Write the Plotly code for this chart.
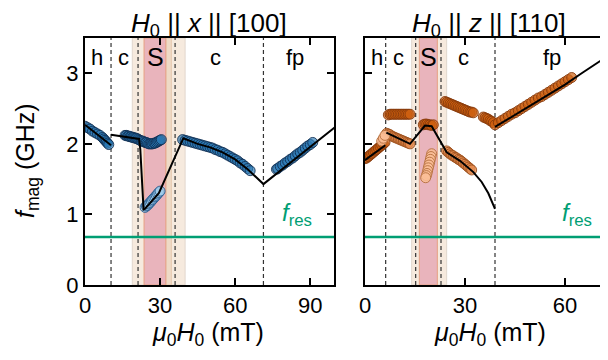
import plotly.graph_objects as go

# page is 608x360; the browser body adds an 8px margin, so the figure is 600x352
W, H = 600, 352
OFF = 8

# ---------------- data: left panel (H0 || x || [100]) ----------------
bx_dark = [0, 1, 2, 3, 4, 5, 6, 7, 7.5, 8, 8.5, 9, 9.5,
           16, 16.5, 17, 17.5, 18, 18.5, 19, 19.5, 20, 20.5, 21, 21.5, 22, 22.5,
           23, 23.5, 24, 24.5, 25, 25.5, 26, 26.5, 27, 27.5, 28, 28.5, 29, 29.5, 30, 30.5,
           39, 40, 41, 42, 43, 44, 45, 46, 47, 48, 49, 50, 51, 52, 53, 54, 55, 56, 57,
           58, 59, 60, 61, 62, 63, 64, 65, 66,
           76.5, 77, 78, 79, 80, 81, 82, 83, 84, 85, 86, 87, 88, 89, 90, 91]
by_dark = [2.25, 2.23, 2.21, 2.18, 2.16, 2.14, 2.12, 2.09, 2.07, 2.05, 2.03, 2.01, 1.99,
           2.12, 2.12, 2.11, 2.11, 2.10, 2.10, 2.09, 2.09, 2.08, 2.08, 2.07, 2.06, 2.05, 2.04,
           2.04, 2.03, 2.02, 2.02, 2.01, 2.00, 2.00, 2.00, 2.00, 2.01, 2.01, 2.02, 2.03, 2.04, 2.05, 2.06,
           2.06, 2.05, 2.04, 2.03, 2.02, 2.01, 2.00, 1.99, 1.98, 1.97, 1.96, 1.95, 1.94, 1.92, 1.91, 1.89, 1.88, 1.86, 1.84,
           1.82, 1.80, 1.78, 1.76, 1.73, 1.71, 1.68, 1.65, 1.62,
           1.64, 1.65, 1.68, 1.70, 1.73, 1.75, 1.78, 1.80, 1.83, 1.86, 1.88, 1.91, 1.94, 1.97, 1.99, 2.02]
bx_light = [24, 24.5, 25, 25.5, 26, 26.5, 27, 27.5, 28, 28.5, 29, 29.5, 30]
by_light = [1.10, 1.12, 1.13, 1.15, 1.17, 1.19, 1.21, 1.23, 1.25, 1.27, 1.29, 1.31, 1.33]

# model line (None separates branches)
lx_left = [0, 10.4, None, 10.4, 21.6, 22.1, 23.4, 24, 29.5, 39.3, 45, 50, 55, 60, 65, 71.3, 100]
ly_left = [2.27, 1.98, None, 2.13, 2.07, 1.92, 1.07, 1.08, 1.30, 2.08, 2.00, 1.95, 1.88, 1.78, 1.64, 1.43, 2.24]

# ---------------- data: right panel (H0 || z || [110]) ----------------
ox_dark = [0, 0.5, 1, 1.5, 2, 2.5, 3, 3.5, 4, 4.5, 5, 5.5, 6,
           7, 7.5, 8, 8.5, 9, 9.5, 10, 10.5, 11, 11.5, 12, 12.5, 13, 13.5,
           17.5, 18, 18.5, 19, 19.5, 20, 20.5,
           24, 24.5, 25, 25.5, 26, 26.5, 27, 27.5, 28, 28.5, 29, 29.5, 30, 30.5, 31, 31.5, 32, 32.5,
           35.5, 36, 36.5, 37, 37.5, 38, 38.5,
           39, 40, 41, 42, 43, 44, 45, 46, 47, 48, 49, 50, 51, 52, 53, 54, 55, 56, 57, 58,
           59, 60, 61, 62]
oy_dark = [1.79, 1.80, 1.82, 1.84, 1.86, 1.88, 1.90, 1.92, 1.94, 1.96, 1.98, 2.00, 2.02,
           2.41, 2.42, 2.42, 2.42, 2.42, 2.42, 2.42, 2.42, 2.42, 2.42, 2.42, 2.42, 2.42, 2.42,
           2.27, 2.28, 2.28, 2.27, 2.27, 2.26, 2.27,
           2.60, 2.59, 2.58, 2.57, 2.56, 2.55, 2.54, 2.53, 2.52, 2.51, 2.50, 2.49, 2.48, 2.47, 2.46, 2.45, 2.45, 2.44,
           2.38, 2.37, 2.36, 2.35, 2.33, 2.32, 2.30,
           2.27, 2.30, 2.33, 2.36, 2.39, 2.42, 2.44, 2.47, 2.50, 2.53, 2.56, 2.59, 2.62, 2.65, 2.67, 2.70, 2.73, 2.76, 2.79, 2.82,
           2.85, 2.88, 2.91, 2.94]
ox_mid = [6.5, 7, 7.5, 8, 8.5, 9, 9.5, 10, 10.5, 11, 11.5, 12, 12.5, 13, 13.5,
          24.5, 25, 25.5, 26, 26.5, 27, 27.5, 28, 28.5, 29, 29.5, 30, 30.5, 31, 31.5, 32]
oy_mid = [2.15, 2.14, 2.13, 2.11, 2.10, 2.09, 2.08, 2.07, 2.06, 2.05, 2.04, 2.03, 2.02, 2.01, 2.00,
          1.90, 1.88, 1.86, 1.84, 1.83, 1.81, 1.80, 1.78, 1.77, 1.75, 1.73, 1.71, 1.69, 1.67, 1.65, 1.63]
ox_light = [5, 5.5, 6, 20, 19.8, 19.6, 19.4, 19.2, 19, 18.8, 18.6, 18.4, 18.2]
oy_light = [2.04, 2.08, 2.12, 1.86, 1.82, 1.78, 1.74, 1.70, 1.66, 1.62, 1.58, 1.55, 1.52]

lx_right = [0, 6.1, None, 6.4, 13.5, 18, 20, 24.5, 28.5, 32.5, 35, 37, 39, None,
            39, 45, 50, 55, 60, 65, 73]
ly_right = [1.77, 1.98, None, 2.16, 2.00, 2.26, 2.25, 1.88, 1.76, 1.60, 1.46, 1.30, 1.08, None,
            2.24, 2.41, 2.55, 2.69, 2.84, 3.00, 3.25]

f_res = 0.68

# phase-boundary positions (mT)
left_dashes = [10.4, 21.2, 36.0, 71.3]
right_dashes = [6.2, 15.2, 22.8, 39.0]
left_bands = [(18.9, 40.0, "beige"), (32.3, 34.5, "tan"), (23.6, 32.3, "pink")]
right_bands = [(14.0, 24.5, "beige"), (16.3, 21.7, "pink")]
left_labels = [("h", 4.6), ("c", 15.2), ("S", 28.0), ("c", 52.0), ("fp", 84.0)]
right_labels = [("h", 3.6), ("c", 10.0), ("S", 19.0), ("c", 29.5), ("fp", 56.0)]

# ---------------- figure ----------------
FONT = "Arial"
fig = go.Figure()

def px_x(p):
    return (p - OFF) / W

def px_y(p):
    return 1 - (p - OFF) / H

dom_y = [px_y(285), px_y(38)]

def add_points(x, y, fill, edge, xa, ya):
    fig.add_trace(go.Scatter(x=x, y=y, mode="markers", xaxis=xa, yaxis=ya,
                             marker=dict(size=10, color=fill, line=dict(color=edge, width=1)),
                             showlegend=False, hoverinfo="skip"))

add_points(bx_dark, by_dark, "rgba(40,120,180,0.65)", "rgba(15,45,80,0.85)", "x", "y")
add_points(bx_light, by_light, "rgba(160,205,235,0.8)", "rgba(40,90,140,0.9)", "x", "y")
fig.add_trace(go.Scatter(x=lx_left, y=ly_left, mode="lines", xaxis="x", yaxis="y",
                         line=dict(color="black", width=2), showlegend=False, connectgaps=False))

add_points(ox_dark, oy_dark, "rgba(205,95,15,0.7)", "rgba(130,55,10,0.85)", "x2", "y2")
add_points(ox_mid, oy_mid, "rgba(230,140,80,0.75)", "rgba(150,75,25,0.85)", "x2", "y2")
add_points(ox_light, oy_light, "rgba(250,190,150,0.85)", "rgba(180,110,60,0.9)", "x2", "y2")
fig.add_trace(go.Scatter(x=lx_right, y=ly_right, mode="lines", xaxis="x2", yaxis="y2",
                         line=dict(color="black", width=2), showlegend=False, connectgaps=False))

band_colors = {"beige": "rgb(246,234,222)", "tan": "rgb(238,218,198)", "pink": "rgb(233,180,188)"}
band_edges = {"beige": "rgb(225,215,205)", "tan": "rgb(230,200,175)", "pink": "rgb(230,160,130)"}

for xr, yr, bands, dashes in [("x", "y", left_bands, left_dashes), ("x2", "y2", right_bands, right_dashes)]:
    for x0, x1, kind in bands:
        fig.add_shape(type="rect", xref=xr, yref=f"{yr} domain", x0=x0, x1=x1, y0=0, y1=1,
                      fillcolor=band_colors[kind], line=dict(color=band_edges[kind], width=1), layer="below")
    for d in dashes:
        fig.add_shape(type="line", xref=xr, yref=f"{yr} domain", x0=d, x1=d, y0=0, y1=1,
                      line=dict(color="#333333", width=1.2, dash="4px,3px"), layer="below")
    fig.add_shape(type="line", xref=f"{xr} domain", yref=yr, x0=0, x1=1, y0=f_res, y1=f_res,
                  line=dict(color="rgb(0,158,115)", width=2.5), layer="below")

ax_common = dict(showline=True, linewidth=2, linecolor="black", mirror="ticks",
                 ticks="inside", ticklen=7, tickwidth=2, tickcolor="black", automargin=False,
                 showgrid=False, zeroline=False, tickfont=dict(family=FONT, size=22, color="black"))

fig.update_layout(
    width=W, height=H, margin=dict(l=0, r=0, t=0, b=0, autoexpand=False),
    paper_bgcolor="white", plot_bgcolor="white",
    xaxis=dict(domain=[px_x(85), px_x(334)], range=[0, 99.5], tickvals=[0, 30, 60, 90], anchor="y", **ax_common),
    yaxis=dict(domain=dom_y, range=[0, 3.5], tickvals=[0, 1, 2, 3], anchor="x", **ax_common),
    xaxis2=dict(domain=[px_x(365), 1.0], range=[0, 72.9], tickvals=[0, 30, 60], anchor="y2", **ax_common),
    yaxis2=dict(domain=dom_y, range=[0, 3.5], tickvals=[0, 1, 2, 3], anchor="x2", showticklabels=False, **ax_common),
)

ann = []
def txt(text, x, y, size=24, xref="paper", yref="paper", color="black", angle=0, yanchor="middle", yshift=0):
    ann.append(dict(text=text, x=x, y=y, xref=xref, yref=yref, showarrow=False,
                    xanchor="center", yanchor=yanchor, textangle=angle, borderpad=0, yshift=yshift,
                    font=dict(family=FONT, size=size, color=color)))

txt("<i>H</i><sub>0</sub> || <i>x</i> || [100]", px_x(209), 1.0, size=26, yanchor="top", yshift=1)
txt("<i>H</i><sub>0</sub> || <i>z</i> || [110]", px_x(489), 1.0, size=26, yanchor="top", yshift=1)
txt("<i>μ</i><sub>0</sub><i>H</i><sub>0</sub> (mT)", px_x(208), px_y(334), size=25)
txt("<i>μ</i><sub>0</sub><i>H</i><sub>0</sub> (mT)", px_x(490), px_y(334), size=25)
txt("<i>f</i><sub>mag</sub> (GHz)", px_x(27), px_y(161), angle=-90, size=25)

for (lab, xv) in left_labels:
    txt(lab, xv, 3.23, size=25 if lab == "S" else 22, xref="x", yref="y")
for (lab, xv) in right_labels:
    txt(lab, xv, 3.23, size=25 if lab == "S" else 22, xref="x2", yref="y2")

txt("<i>f</i><sub>res</sub>", 84.7, 1.0, xref="x", yref="y", color="rgb(0,158,115)")
txt("<i>f</i><sub>res</sub>", 63.6, 1.0, xref="x2", yref="y2", color="rgb(0,158,115)")

fig.update_layout(annotations=ann)
fig.write_html("out.html")
